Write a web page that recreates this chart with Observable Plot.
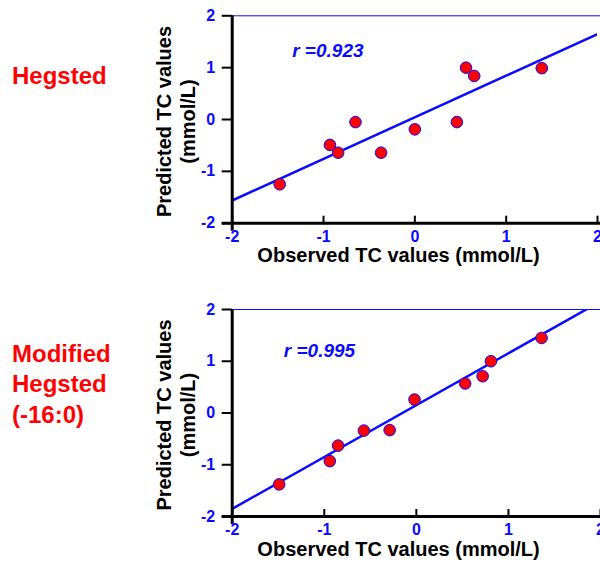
<!DOCTYPE html>
<html>
<head>
<meta charset="utf-8">
<script src="https://cdn.jsdelivr.net/npm/d3@7"></script>
<script src="https://cdn.jsdelivr.net/npm/@observablehq/plot@0.6"></script>
<style>
  html, body { margin: 0; padding: 0; background: #fff; }
  #chart { width: 600px; height: 562px; position: relative; overflow: hidden; }
  #chart svg { display: block; }
</style>
</head>
<body>
<div id="chart"></div>
<script>
// ---- data ----
const axisTicks = [-2, -1, 0, 1, 2];
const tickLabels = ["-2", "-1", "0", "1", "2"];
const panelNames = ["Hegsted", "Modified\nHegsted\n(-16:0)"];
const rLabels = ["r =0.923", "r =0.995"];
const xTitle = "Observed TC values (mmol/L)";
const yTitle = "Predicted TC values\n(mmol/L)";

// Hegsted panel: observed vs predicted TC changes (mmol/L)
const hegObs  = [-1.48, -0.93, -0.84, -0.65, -0.37, 0.00, 0.46, 0.56, 0.65, 1.39];
const hegPred = [-1.25, -0.49, -0.64, -0.05, -0.64, -0.19, -0.05, 1.00, 0.84, 0.99];
// Modified Hegsted (-16:0) panel
const modObs  = [-1.49, -0.94, -0.85, -0.57, -0.29, -0.02, 0.53, 0.72, 0.81, 1.36];
const modPred = [-1.38, -0.93, -0.63, -0.34, -0.33, 0.26, 0.57, 0.71, 1.00, 1.45];
// fitted regression lines (slope, intercept)
const fitSlope = [0.802, 1.002];
const fitIntercept = [0.042, 0.152];
const fitXExtent = [-2, 2.2];

const FONT = "'Liberation Sans', Arial, Helvetica, sans-serif";
const BLUE = "#0a0aff";
const fmt = d => tickLabels[axisTicks.indexOf(d)];

function panel(i, obs, pred, layout) {
  const pts = obs.map((x, k) => ({x, y: pred[k]}));
  const fit = fitXExtent.map(x => ({x, y: fitSlope[i] * x + fitIntercept[i]}));
  const {h, ml, mt, mr, mb, rdx, rdy, xtDx, xtDy, nameDy} = layout;
  return Plot.plot({
    width: 600,
    height: h,
    marginLeft: ml, marginTop: mt, marginRight: mr, marginBottom: mb,
    style: {fontFamily: FONT, background: "white", overflow: "visible"},
    x: {domain: [-2, 2]},
    y: {domain: [-2, 2]},
    marks: [
      Plot.ruleY([2], {stroke: BLUE, strokeWidth: 1, insetRight: -3}),
      Plot.line(fit, {x: "x", y: "y", stroke: BLUE, strokeWidth: 2.5, clip: true}),
      Plot.dot(pts, {x: "x", y: "y", r: 5.8, fill: "#ff0000", stroke: BLUE, strokeWidth: 1}),
      Plot.ruleX([-2], {stroke: "black", strokeWidth: 3, insetBottom: -8}),
      Plot.ruleY([-2], {stroke: "black", strokeWidth: 3, insetLeft: -10, insetRight: -3}),
      Plot.axisY({ticks: axisTicks, tickFormat: fmt, tickSize: 10, tickPadding: 7, stroke: "black", strokeWidth: 2,
        fill: BLUE, fontSize: 16, fontWeight: "bold", label: null}),
      Plot.axisX({ticks: axisTicks, tickSize: 7, dy: -7, stroke: "black", strokeWidth: 2,
        tickFormat: () => "", label: null}),
      Plot.axisX({ticks: axisTicks, tickFormat: fmt, tickSize: 0, tickPadding: 7, fill: BLUE,
        fontSize: 16, fontWeight: "bold", label: null}),
      Plot.text([xTitle], {frameAnchor: "bottom", dx: xtDx, dy: xtDy, lineAnchor: "bottom",
        textAnchor: "middle", fontSize: 20, fontWeight: "bold", fill: "black"}),
      Plot.text([yTitle], {frameAnchor: "left", dx: -57, dy: 2, rotate: -90, lineAnchor: "middle",
        textAnchor: "middle", lineHeight: 1.2, fontSize: 20, fontWeight: "bold", fill: "black"}),
      Plot.text([rLabels[i]], {frameAnchor: "top-left", dx: rdx, dy: rdy, lineAnchor: "bottom",
        textAnchor: "start", fontSize: 19, fontWeight: "bold", fontStyle: "italic", fill: BLUE}),
      Plot.text([panelNames[i]], {frameAnchor: "top-left", dx: 11.5 - ml, dy: nameDy, lineAnchor: "bottom",
        textAnchor: "start", lineHeight: 1.27, fontSize: 24, fontWeight: "bold", fill: "#ff0000"})
    ]
  });
}

const topPanel = panel(0, hegObs, hegPred, {
  h: 281, ml: 231.7, mt: 15.3, mr: 3, mb: 281 - 222.7,
  rdx: 60, rdy: 40.7,
  xtDx: 398 - (231.7 + 597) / 2, xtDy: 38.3,
  nameDy: 68
});
const bottomPanel = panel(1, modObs, modPred, {
  h: 281, ml: 231.7, mt: 28, mr: 0, mb: 281 - 235,
  rdx: 51.6, rdy: 47.7,
  xtDx: 398 - (231.7 + 600) / 2, xtDy: 39.5,
  nameDy: 113.3
});
const el = document.getElementById("chart");
el.appendChild(topPanel);
el.appendChild(bottomPanel);
</script>
</body>
</html>
